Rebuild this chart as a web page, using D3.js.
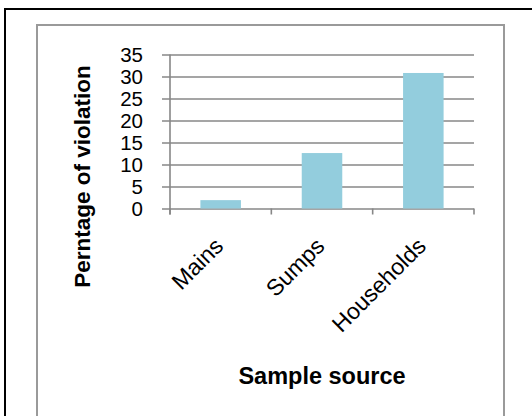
<!DOCTYPE html>
<html>
<head>
<meta charset="utf-8">
<script src="https://cdn.jsdelivr.net/npm/d3@7/dist/d3.min.js"></script>
<style>
  html, body { margin: 0; padding: 0; background: #fff; }
  svg { display: block; }
</style>
</head>
<body>
<script>
// Share of samples in violation, by sample source
const categories = ["Mains", "Sumps", "Households"];
const values = [1.9, 12.6, 30.8];
const yTicks = [0, 5, 10, 15, 20, 25, 30, 35];
const yTitle = "Perntage of violation";
const xTitle = "Sample source";

const W = 532, H = 416;
const plot = { left: 170, right: 474, top: 54.5, bottom: 208.5 };
const gridColor = "#878787";
const barColor = "#93cddd";

const svg = d3.select("body").append("svg")
  .attr("width", W).attr("height", H);

// frame lines
svg.append("path")
  .attr("d", `M5,${H} L5,9 L${W},9`)
  .attr("fill", "none").attr("stroke", "#000").attr("stroke-width", 2);
svg.append("path")
  .attr("d", `M37,${H} L37,25 L504,25 L504,${H}`)
  .attr("fill", "none").attr("stroke", "#9a9a9a").attr("stroke-width", 2);

const x = d3.scaleBand()
  .domain(categories)
  .range([plot.left, plot.right])
  .paddingInner(0.6)
  .paddingOuter(0.3);

const y = d3.scaleLinear()
  .domain([0, 35])
  .range([plot.bottom, plot.top]);

// horizontal gridlines with value labels
const yAxis = svg.append("g")
  .attr("transform", `translate(${plot.left - 8},0)`)
  .call(d3.axisLeft(y)
    .tickValues(yTicks)
    .tickSizeInner(-(plot.right - plot.left + 8))
    .tickSizeOuter(0)
    .tickPadding(19)
    .tickFormat(d3.format("d")));
yAxis.select(".domain").remove();
yAxis.selectAll(".tick line")
  .attr("stroke", gridColor).attr("stroke-width", 1.6);
yAxis.selectAll(".tick text")
  .attr("fill", "#000")
  .style("font-family", "'Liberation Sans', Arial, sans-serif")
  .style("font-size", "20.5px");

// bars
svg.append("g").selectAll("rect")
  .data(values)
  .join("rect")
  .attr("x", (d, i) => x(categories[i]))
  .attr("y", d => y(d))
  .attr("width", x.bandwidth())
  .attr("height", d => y(0) - y(d))
  .attr("fill", barColor);

// vertical axis line
svg.append("line")
  .attr("x1", plot.left).attr("x2", plot.left)
  .attr("y1", y(35)).attr("y2", y(0) + 6)
  .attr("stroke", gridColor).attr("stroke-width", 1.6);

// category boundary tick marks
const step = x.step();
const bounds = d3.range(categories.length + 1).map(i => plot.left + i * step);
svg.append("g").selectAll("line")
  .data(bounds)
  .join("line")
  .attr("x1", d => d).attr("x2", d => d)
  .attr("y1", y(0)).attr("y2", y(0) + 6)
  .attr("stroke", gridColor).attr("stroke-width", 1.6);

// slanted category labels
svg.append("g").selectAll("text")
  .data(categories)
  .join("text")
  .attr("transform", d => `translate(${x(d) + x.bandwidth() / 2 + 4},${y(0) + 39}) rotate(-45)`)
  .attr("text-anchor", "end")
  .style("font-family", "'Liberation Sans', Arial, sans-serif")
  .style("font-size", "23px")
  .attr("fill", "#000")
  .text(d => d);

// axis titles
svg.append("text")
  .attr("transform", `translate(89.5,${(65 + 288) / 2}) rotate(-90)`)
  .attr("text-anchor", "middle")
  .style("font-family", "'Liberation Sans', Arial, sans-serif")
  .style("font-weight", "bold")
  .style("font-size", "22.5px")
  .attr("fill", "#000")
  .text(yTitle);

svg.append("text")
  .attr("x", (plot.left + plot.right) / 2)
  .attr("y", 384)
  .attr("text-anchor", "middle")
  .style("font-family", "'Liberation Sans', Arial, sans-serif")
  .style("font-weight", "bold")
  .style("font-size", "23.5px")
  .attr("fill", "#000")
  .text(xTitle);
</script>
</body>
</html>
